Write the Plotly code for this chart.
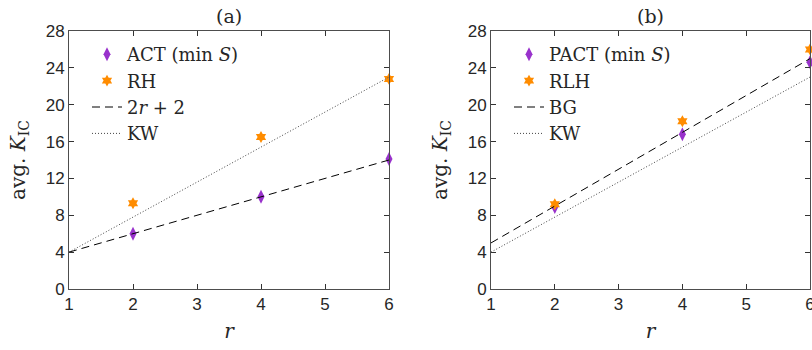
import plotly.graph_objects as go

r_pts = [2, 4, 6]
act = [6.0, 10.0, 14.1]
rh = [9.3, 16.5, 22.8]
pact = [8.9, 16.8, 24.6]
rlh = [9.2, 18.2, 26.0]

r_line = [1, 6]
line_2r2 = [4, 14]
kw = [4, 23]
bg = [5, 25]

x_ticks = [1, 2, 3, 4, 5, 6]
y_ticks = [0, 4, 8, 12, 16, 20, 24, 28]

PURPLE = "#9932CC"
ORANGE = "#FF8C00"
SERIF = "DejaVu Serif, Liberation Serif, serif"
SANS = "Liberation Sans, Arial, sans-serif"
TXT = "#262626"

fig = go.Figure()

def add_panel(xa, ya, leg, s1name, s1, s2name, s2, l1name, l1, l2name, l2):
    fig.add_trace(go.Scatter(x=r_pts, y=s1, mode="markers", name=s1name,
                             marker=dict(symbol="diamond-tall", size=10, color=PURPLE),
                             xaxis=xa, yaxis=ya, legend=leg, cliponaxis=False))
    fig.add_trace(go.Scatter(x=r_pts, y=s2, mode="markers", name=s2name,
                             marker=dict(symbol="hexagram", size=9, color=ORANGE),
                             xaxis=xa, yaxis=ya, legend=leg, cliponaxis=False))
    fig.add_trace(go.Scatter(x=r_line, y=l1, mode="lines", name=l1name,
                             line=dict(color="black", width=1, dash="8px,5px"),
                             xaxis=xa, yaxis=ya, legend=leg))
    fig.add_trace(go.Scatter(x=r_line, y=l2, mode="lines", name=l2name,
                             line=dict(color="#444444", width=1, dash="1px,2px"),
                             xaxis=xa, yaxis=ya, legend=leg))

add_panel("x", "y", "legend", "ACT (min <i>S</i>)", act, "RH", rh,
          "2<i>r</i> + 2", line_2r2, "KW", kw)
add_panel("x2", "y2", "legend2", "PACT (min <i>S</i>)", pact, "RLH", rlh,
          "BG", bg, "KW", kw)

FW, FH = 812, 350

def fx(px):
    return px / FW

def fy(py):
    return (FH - py) / FH

xd1 = [fx(69), fx(389)]
xd2 = [fx(491), fx(810)]
yd = [fy(289), fy(31)]

axis_common = dict(showline=True, linecolor="#4d4d4d", linewidth=1, mirror="allticks",
                   ticks="inside", ticklen=5, tickcolor="#333333", showgrid=False,
                   zeroline=False, automargin=False, ticklabeloverflow="allow",
                   tickfont=dict(family=SANS, size=17, color=TXT))

xaxis = dict(axis_common, range=[1, 6], tickvals=x_ticks,
             title=dict(text="<i>r</i>", font=dict(family=SERIF, size=20, color=TXT), standoff=10))
yaxis = dict(axis_common, range=[0, 28], tickvals=y_ticks,
             title=dict(text="avg. <i>K</i><sub>IC</sub>", font=dict(family=SERIF, size=20, color=TXT), standoff=14))

legend_common = dict(bgcolor="rgba(0,0,0,0)", borderwidth=0,
                     font=dict(family=SERIF, size=18, color=TXT),
                     xanchor="left", yanchor="top", tracegroupgap=0)

fig.update_layout(
    width=FW, height=FH, margin=dict(l=0, r=0, t=0, b=0, autoexpand=False),
    paper_bgcolor="white", plot_bgcolor="white",
    xaxis=dict(xaxis, domain=xd1, anchor="y"),
    yaxis=dict(yaxis, domain=yd, anchor="x"),
    xaxis2=dict(xaxis, domain=xd2, anchor="y2"),
    yaxis2=dict(yaxis, domain=yd, anchor="x2"),
    legend=dict(legend_common, x=fx(87), y=fy(36)),
    legend2=dict(legend_common, x=fx(509), y=fy(36)),
    showlegend=True,
    annotations=[
        dict(text="(a)", x=(xd1[0] + xd1[1]) / 2, y=fy(16), xref="paper", yref="paper",
             xanchor="center", yanchor="middle", showarrow=False,
             font=dict(family=SERIF, size=19, color=TXT)),
        dict(text="(b)", x=(xd2[0] + xd2[1]) / 2, y=fy(16), xref="paper", yref="paper",
             xanchor="center", yanchor="middle", showarrow=False,
             font=dict(family=SERIF, size=19, color=TXT)),
    ],
)

fig.write_html(
    "out.html",
    config={"displayModeBar": False},
    post_script="document.body.style.margin='0';document.body.style.overflow='hidden';",
)
